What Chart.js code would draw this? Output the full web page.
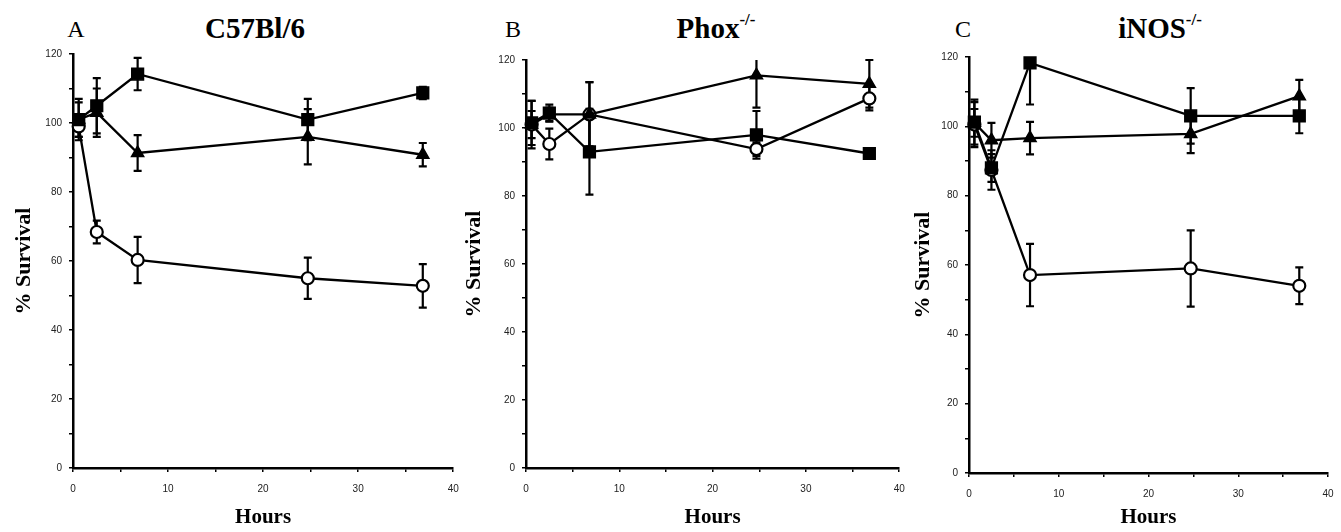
<!DOCTYPE html>
<html>
<head>
<meta charset="utf-8">
<script src="https://cdn.jsdelivr.net/npm/chart.js@4.4.1/dist/chart.umd.min.js"></script>
<style>
  body { margin: 0; background: #fff; width: 1341px; height: 532px; overflow: hidden; position: relative; }
  canvas { position: absolute; top: 0; }
  .lbl { position: absolute; font-family: "Liberation Serif", "Times New Roman", serif; color: #000; line-height: 1; white-space: nowrap; transform: translateX(-50%); }
  .letter { font-size: 24px; top: 17px; }
  .title { font-size: 29px; font-weight: bold; top: 14px; }
  .title sup { font-size: 17px; position: relative; top: -3px; vertical-align: top; }
</style>
</head>
<body>
<div class="lbl letter" style="left:76px">A</div>
<div class="lbl title" style="left:255px">C57Bl/6</div>
<div class="lbl letter" style="left:513px">B</div>
<div class="lbl title" style="left:716px">Phox<sup>-/-</sup></div>
<div class="lbl letter" style="left:963px">C</div>
<div class="lbl title" style="left:1160px">iNOS<sup>-/-</sup></div>

<canvas id="chartA" width="463" height="532" style="left:0px"></canvas>
<canvas id="chartB" width="456" height="532" style="left:453px"></canvas>
<canvas id="chartC" width="445" height="532" style="left:896px"></canvas>

<script>
// tempos (horas)
const hours = [0.6, 2.5, 6.8, 24.7, 36.8];

// A - C57Bl/6
const aSquare = [101, 105, 114.2, 101, 108.7];
const aSquareErr = [6, 8, 4.7, 6, 1.8];
const aTriangle = [101, 103, 91.3, 96, 90.8];
const aTriangleErr = [5, 7, 5.2, 8, 3.4];
const aCircle = [99, 68.4, 60.3, 55, 52.8];
const aCircleErr = [3, 3.3, 6.7, 6, 6.3];

// B - Phox-/-
const bSquare = [101.5, 104.4, 93, 98, 92.5];
const bSquareErr = [6.5, 2.5, 12.6, 7, 1.2];
const bTriangle = [101, 104, 104, 115.5, 113];
const bTriangleErr = [4, 2, 9.5, 9.5, 7];
const bCircle = [101, 95.3, 104, 93.8, 108.7];
const bCircleErr = [7, 4.5, 9.5, 2, 3.5];

// C - iNOS-/-
const cSquare = [101.2, 88, 118.3, 103, 103];
const cSquareErr = [6.5, 4, 12, 8, 5];
const cTriangle = [101, 96, 96.6, 97.8, 108.7];
const cTriangleErr = [4, 5, 4.7, 5.5, 4.7];
const cCircle = [100.5, 87.4, 57.1, 59, 54];
const cCircleErr = [6.5, 5.7, 9, 11, 5.3];

const yTickLabels = [0, 20, 40, 60, 80, 100, 120];
const xTickLabels = [0, 10, 20, 30, 40];

// barras de erro desenhadas pela escala y
const errorBars = {
    id: 'errorBars',
    beforeDatasetsDraw(chart) {
        const ctx = chart.ctx;
        const yScale = chart.scales.y;
        const area = chart.chartArea;
        ctx.save();
        ctx.strokeStyle = '#000';
        ctx.lineWidth = 2.2;
        chart.data.datasets.forEach((ds, i) => {
            const meta = chart.getDatasetMeta(i);
            meta.data.forEach((pt, j) => {
                const v = ds.data[j].y;
                const e = ds.errors[j];
                const hi = yScale.getPixelForValue(v + e);
                const top = Math.max(hi, area.top);
                const bot = yScale.getPixelForValue(v - e);
                ctx.beginPath();
                ctx.moveTo(pt.x, top);
                ctx.lineTo(pt.x, bot);
                if (hi >= area.top) {
                    ctx.moveTo(pt.x - 4, top);
                    ctx.lineTo(pt.x + 4, top);
                }
                ctx.moveTo(pt.x - 4, bot);
                ctx.lineTo(pt.x + 4, bot);
                ctx.stroke();
            });
        });
        ctx.restore();
    }
};

function serie(values, errors, style) {
    const base = {
        data: values.map((v, i) => ({ x: hours[i], y: v })),
        errors: errors,
        borderColor: '#000',
        borderWidth: 2.3,
        pointBorderColor: '#000',
        clip: false
    };
    if (style === 'square') {
        return Object.assign(base, { pointStyle: 'rect', pointRadius: 8.3, pointBackgroundColor: '#000', pointBorderWidth: 1.5 });
    }
    if (style === 'triangle') {
        return Object.assign(base, { pointStyle: 'triangle', pointRadius: 7, pointBackgroundColor: '#000', pointBorderWidth: 1.5 });
    }
    return Object.assign(base, { pointStyle: 'circle', pointRadius: 6, pointBackgroundColor: '#fff', pointBorderWidth: 2.2 });
}

function makePanel(id, datasets, pad, xHeight, yTitlePad) {
    const tickFont = { family: 'Liberation Sans, Arial, sans-serif', size: 10 };
    new Chart(document.getElementById(id), {
        type: 'line',
        data: { datasets: datasets },
        options: {
            responsive: false,
            animation: false,
            layout: { padding: pad },
            plugins: { legend: { display: false }, tooltip: { enabled: false } },
            scales: {
                x: {
                    type: 'linear',
                    min: 0, max: 40,
                    afterFit(scale) {
                        scale.height = xHeight;
                        scale.paddingLeft = 0;
                        scale.paddingRight = 0;
                    },
                    ticks: {
                        stepSize: 5,
                        autoSkip: false,
                        maxRotation: 0,
                        padding: 11,
                        color: '#222',
                        font: tickFont,
                        callback: v => xTickLabels.includes(v) ? v : ''
                    },
                    grid: { drawOnChartArea: false, drawTicks: true, tickLength: 4, color: '#000', lineWidth: 1.5 },
                    border: { display: true, color: '#000', width: 2.5 },
                    title: {
                        display: true,
                        text: 'Hours',
                        color: '#000',
                        font: { family: 'Liberation Serif, Times New Roman, serif', size: 21, weight: 'bold' },
                        padding: { top: 0, bottom: 2 }
                    }
                },
                y: {
                    min: 0, max: 120,
                    afterFit(scale) {
                        scale.width = 73;
                        scale.paddingTop = 0;
                        scale.paddingBottom = 0;
                    },
                    ticks: {
                        stepSize: 10,
                        autoSkip: false,
                        padding: 7,
                        color: '#222',
                        font: tickFont,
                        callback: v => yTickLabels.includes(v) ? v : ''
                    },
                    grid: { drawOnChartArea: false, drawTicks: true, tickLength: 4, color: '#000', lineWidth: 1.5 },
                    border: { display: true, color: '#000', width: 2.5 },
                    title: {
                        display: true,
                        text: '% Survival',
                        color: '#000',
                        font: { family: 'Liberation Serif, Times New Roman, serif', size: 22, weight: 'bold' },
                        padding: { top: yTitlePad, bottom: 0 }
                    }
                }
            }
        },
        plugins: [errorBars]
    });
}

makePanel('chartA', [
    serie(aSquare, aSquareErr, 'square'),
    serie(aTriangle, aTriangleErr, 'triangle'),
    serie(aCircle, aCircleErr, 'circle')
], { top: 54, right: 6, left: 0, bottom: 0 }, 64, 11);

makePanel('chartB', [
    serie(bSquare, bSquareErr, 'square'),
    serie(bTriangle, bTriangleErr, 'triangle'),
    serie(bCircle, bCircleErr, 'circle')
], { top: 60, right: 8, left: 0, bottom: 0 }, 64, 8);

makePanel('chartC', [
    serie(cSquare, cSquareErr, 'square'),
    serie(cTriangle, cTriangleErr, 'triangle'),
    serie(cCircle, cCircleErr, 'circle')
], { top: 57, right: 13, left: 0, bottom: 0 }, 59, 14);
</script>
</body>
</html>
